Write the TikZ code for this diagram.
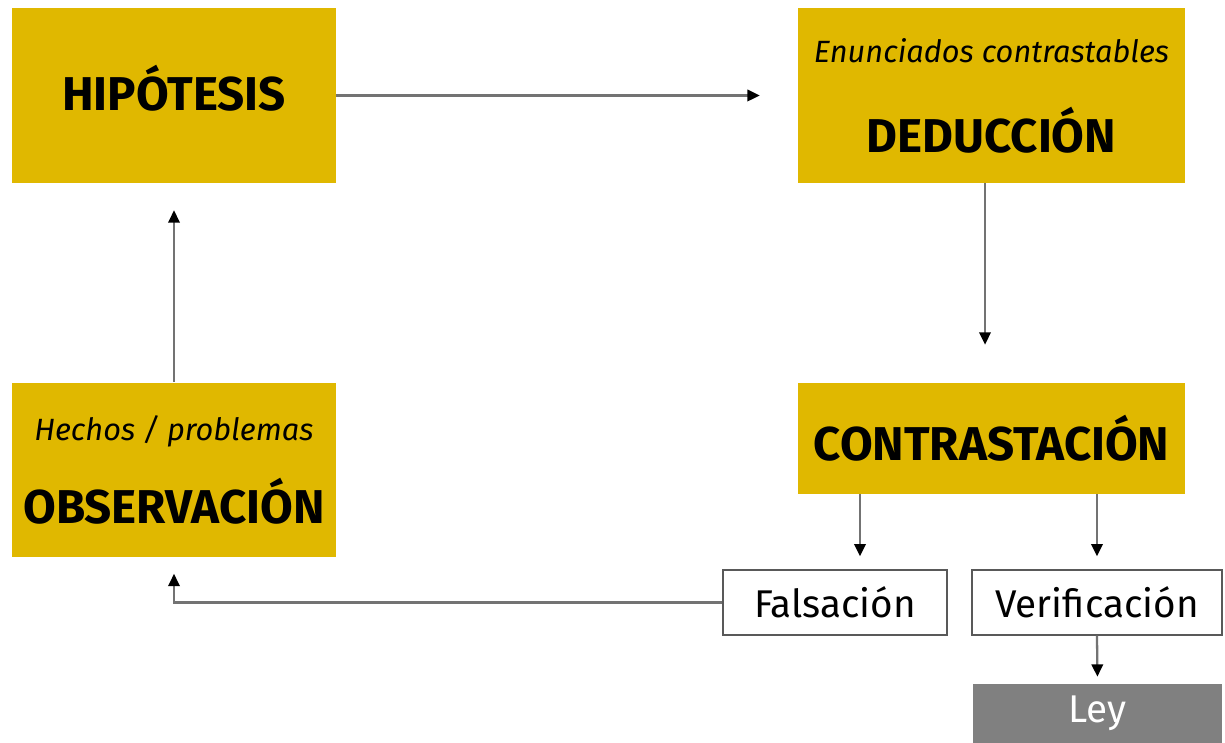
\documentclass[tikz,border=0pt]{standalone}
\usepackage{fontspec}
\setmainfont{Fira Sans}
\usetikzlibrary{arrows.meta}

\definecolor{oro}{RGB}{224,184,0}
\definecolor{gris}{RGB}{128,128,128}
\newcommand{\grande}{\fontsize{27}{31}\selectfont\bfseries}
\newcommand{\chico}{\fontsize{17.5}{20}\selectfont\itshape}
\newcommand{\medio}{\fontsize{22}{26}\selectfont}

\begin{document}
\begin{tikzpicture}[x=0.02cm,y=-0.02cm,
	every node/.style={black,inner sep=0pt,align=center},
	caja/.style={fill=oro,minimum width=6.48cm,minimum height=3.5cm},
	cajita/.style={draw=black!65,line width=0.8pt,fill=white,minimum height=1.3cm},
	flecha/.style={black!55,line width=1.3pt,-{Triangle[black,length=7pt,width=6.5pt]}}]
	\useasboundingbox (0,0) rectangle (1225,743);

	\node[caja] (hip) at (174,95.5) {\grande HIPÓTESIS\\[-3pt]};
	\node[caja,minimum width=7.74cm] (ded) at (991.5,95.5)
		{\chico Enunciados contrastables\\[0.85cm]\grande DEDUCCIÓN};
	\node[caja] (obs) at (174,470)
		{\chico Hechos / problemas\\[0.6cm]\grande OBSERVACIÓN};
	\node[caja,minimum width=7.74cm,minimum height=2.22cm] (con) at (991.5,438.5)
		{\grande CONTRASTACIÓN};

	\node[cajita,minimum width=4.48cm] (fal) at (835,602.5) {\medio Falsación};
	\node[cajita,minimum width=5cm] (ver) at (1097,602.5) {\medio Verificación};
	\node[fill=gris,minimum width=4.98cm,minimum height=1.18cm] (ley) at (1097.5,713.5)
		{\medio\color{white} Ley};

	% conexiones
	\begin{scope}[flecha]
		\draw[shorten >=0.76cm] (hip.east) -- (ded.west);
		\draw[shorten >=0.76cm] ([xshift=-0.13cm]ded.south) -- ([xshift=-0.13cm]con.north);
		\draw[shorten >=0.26cm] ([xshift=0.5cm]fal.north |- con.south) -- ([xshift=0.5cm]fal.north);
		\draw[shorten >=0.26cm] (ver.north |- con.south) -- (ver.north);
		\draw[shorten >=0.14cm] (ver.south) -- (ley.north);
		\draw[shorten >=0.32cm] (fal.west) -| (obs.south);
		\draw[shorten >=0.54cm] (obs.north) -- (hip.south);
	\end{scope}
\end{tikzpicture}
\end{document}
